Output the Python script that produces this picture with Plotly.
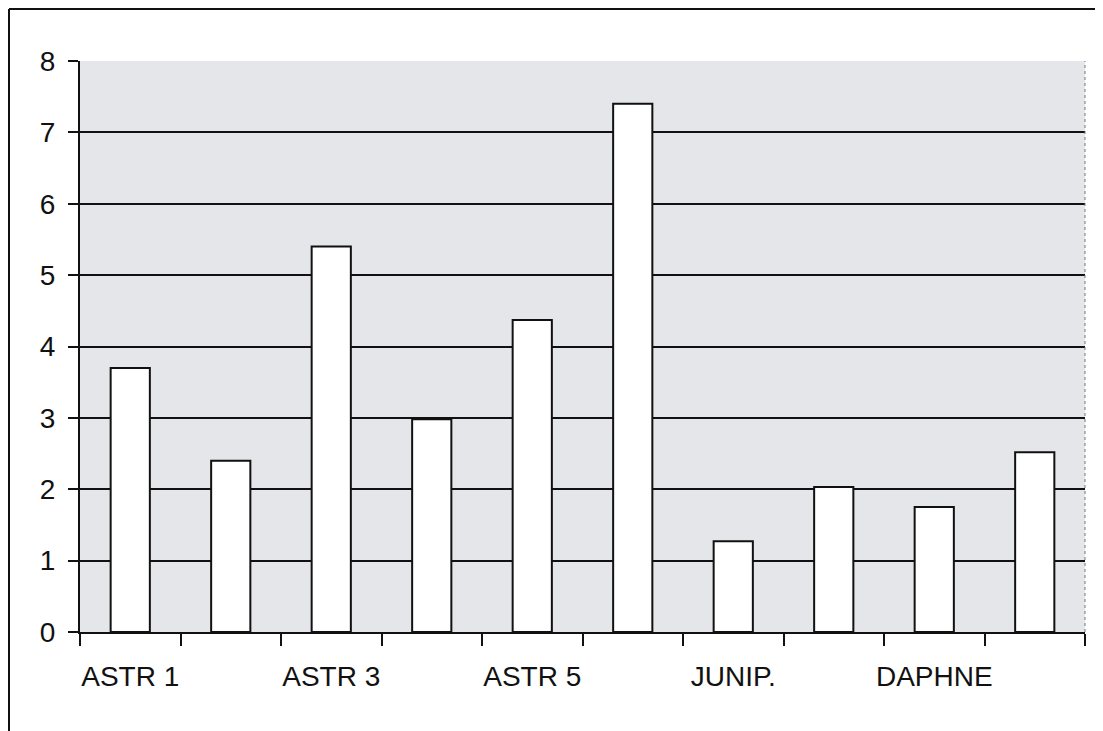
import plotly.graph_objects as go

# Data
tick_labels = ["ASTR 1", "", "ASTR 3", "", "ASTR 5", "", "JUNIP.", "", "DAPHNE", ""]
values = [3.70, 2.40, 5.40, 2.98, 4.37, 7.40, 1.27, 2.03, 1.75, 2.52]
y_ticks = [0, 1, 2, 3, 4, 5, 6, 7, 8]

x_pos = list(range(len(values)))
FONT = "Liberation Sans, Arial, sans-serif"

# page body has an 8px default margin, so the figure is sized to fit inside it
W, H = 1095, 723
L, R, T, B = 72, 18, 53, 99
PW, PH = W - L - R, H - T - B

fig = go.Figure()
fig.add_trace(go.Bar(
    x=x_pos, y=values, width=0.39,
    marker=dict(color="white", line=dict(color="#111111", width=2)),
    hoverinfo="y",
))

fig.update_layout(
    width=W, height=H,
    margin=dict(l=L, r=R, t=T, b=B),
    paper_bgcolor="white",
    plot_bgcolor="#e4e6ea",
    showlegend=False,
    font=dict(family=FONT, size=28, color="#111111"),
    xaxis=dict(
        range=[-0.5, len(values) - 0.5],
        tickmode="array", tickvals=x_pos, ticktext=tick_labels,
        ticks="", showgrid=False, zeroline=False,
        showline=True, linecolor="#111111", linewidth=2,
        ticklabelstandoff=18,
        minor=dict(tick0=-0.5, dtick=1, ticks="outside", ticklen=12,
                   tickcolor="#111111", tickwidth=2, showgrid=False),
        tickfont=dict(family=FONT, size=28, color="#111111"),
    ),
    yaxis=dict(
        range=[0, 8],
        tickmode="array", tickvals=y_ticks,
        ticks="outside", ticklen=10, tickcolor="#111111", tickwidth=2,
        showgrid=True, gridcolor="#111111", gridwidth=2,
        zeroline=False,
        showline=True, linecolor="#111111", linewidth=2,
        ticklabelstandoff=7,
        tickfont=dict(family=FONT, size=28, color="#111111"),
    ),
    shapes=[
        # dotted right edge of plot area
        dict(type="line", xref="paper", yref="paper", x0=1, x1=1, y0=0, y1=1,
             line=dict(color="#777777", width=1, dash="dot")),
        # outer chart frame (partly cropped in the scan)
        dict(type="line", xref="paper", yref="paper",
             x0=(1 - L) / PW, x1=(W + 10 - L) / PW,
             y0=(T + PH - 1) / PH, y1=(T + PH - 1) / PH,
             line=dict(color="#111111", width=2)),
        dict(type="line", xref="paper", yref="paper",
             x0=(1 - L) / PW, x1=(1 - L) / PW,
             y0=(T + PH - 1) / PH, y1=-(B + 10) / PH,
             line=dict(color="#111111", width=2)),
    ],
)

fig.write_html("out.html")
